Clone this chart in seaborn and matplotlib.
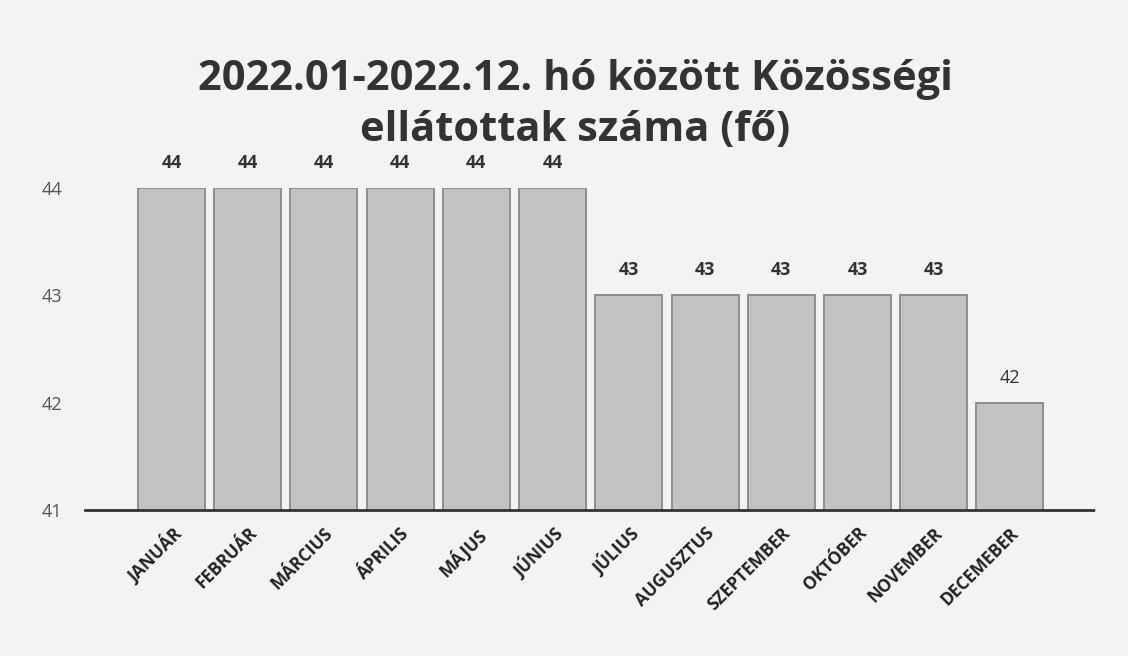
import pandas as pd
import matplotlib.pyplot as plt
import seaborn as sns

# Data
months = ['JANUÁR', 'FEBRUÁR', 'MÁRCIUS', 'ÁPRILIS', 'MÁJUS', 'JÚNIUS',
          'JÚLIUS', 'AUGUSZTUS', 'SZEPTEMBER', 'OKTÓBER', 'NOVEMBER', 'DECEMEBER']
clients = [44, 44, 44, 44, 44, 44, 43, 43, 43, 43, 43, 42]
y_ticks = [41, 42, 43, 44]

df = pd.DataFrame({'honap': months, 'fo': clients})

sns.set_theme(style="white")
plt.rcParams['font.family'] = ['Open Sans', 'DejaVu Sans']

fig = plt.figure(figsize=(11.28, 6.56), dpi=100)
fig.patch.set_facecolor('#f3f3f3')
ax = fig.add_axes([0.075, 0.2226, 0.896, 0.491])
ax.set_facecolor('#f3f3f3')

sns.barplot(data=df, x='honap', y='fo', color='#c2c2c2', width=0.88,
            edgecolor='#8e8e8e', linewidth=1.4, saturation=1, ax=ax)

ax.set_ylim(41, 44)
ax.set_xlim(-1.14, 12.12)
ax.set_yticks(y_ticks)
ax.set_yticklabels([str(t) for t in y_ticks], fontsize=13, color='#555555')
ax.tick_params(axis='y', length=0, pad=16)
ax.tick_params(axis='x', length=0, pad=10)
ax.set_xlabel('')
ax.set_ylabel('')
plt.setp(ax.get_xticklabels(), rotation=45, ha='right', rotation_mode='anchor',
         fontsize=12.5, fontweight='bold', color='#222222')

for s in ['top', 'right', 'left']:
    ax.spines[s].set_visible(False)
ax.spines['bottom'].set_color('#333333')
ax.spines['bottom'].set_linewidth(2)
ax.spines['bottom'].set_linestyle((0, (6, 1)))

for i, v in enumerate(clients):
    ax.text(i, v + 0.15, str(v), ha='center', va='bottom', fontsize=13,
            fontweight='bold' if v > 42 else 'normal', color='#333333', clip_on=False)

fig.text(0.51, 0.84, '2022.01-2022.12. hó között Közösségi\nellátottak száma (fő)',
         ha='center', va='center', fontsize=30, fontweight='bold', color='#333333',
         linespacing=1.3)

fig.savefig('out.png', dpi=100, facecolor=fig.get_facecolor())
